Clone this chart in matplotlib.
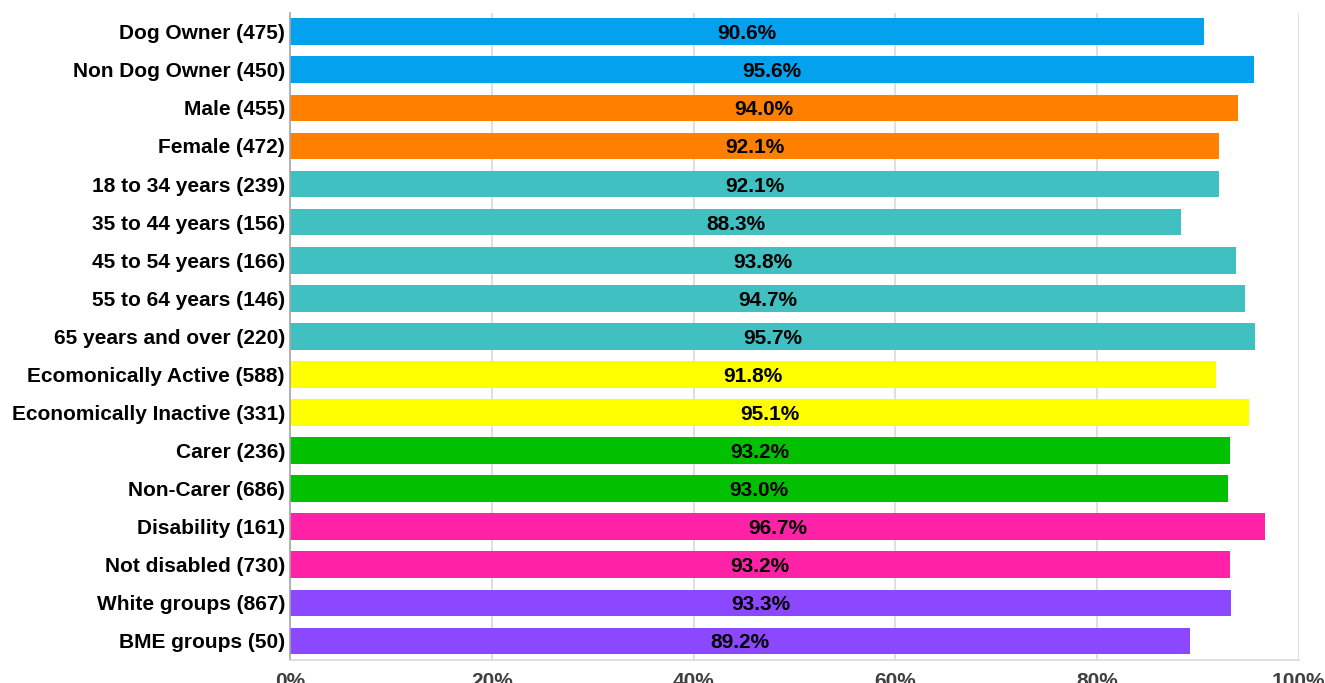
import matplotlib
matplotlib.use("Agg")
import matplotlib.pyplot as plt
from matplotlib.ticker import FuncFormatter

plt.rcParams['font.family'] = ['Liberation Sans', 'DejaVu Sans']

# Survey groups (with base sizes) and share of positive responses, %
categories = [
    "Dog Owner (475)", "Non Dog Owner (450)", "Male (455)", "Female (472)",
    "18 to 34 years (239)", "35 to 44 years (156)", "45 to 54 years (166)",
    "55 to 64 years (146)", "65 years and over (220)",
    "Ecomonically Active (588)", "Economically Inactive (331)",
    "Carer (236)", "Non-Carer (686)", "Disability (161)", "Not disabled (730)",
    "White groups (867)", "BME groups (50)",
]
values = [90.6, 95.6, 94.0, 92.1, 92.1, 88.3, 93.8, 94.7, 95.7,
          91.8, 95.1, 93.2, 93.0, 96.7, 93.2, 93.3, 89.2]
groups = ["dog", "dog", "sex", "sex", "age", "age", "age", "age", "age",
          "econ", "econ", "carer", "carer", "dis", "dis", "eth", "eth"]
group_colors = {
    "dog": "#03A1EE", "sex": "#FF8000", "age": "#40C0C0", "econ": "#FFFF00",
    "carer": "#00C000", "dis": "#FF22A6", "eth": "#8C48FF",
}
x_ticks = [0, 20, 40, 60, 80, 100]

FS = 15

fig = plt.figure(figsize=(13.25, 6.83), dpi=100)
ax = fig.add_axes([0.2192, 0.0337, 0.7608, 0.9477])

ypos = list(range(len(categories)))
colors = [group_colors[g] for g in groups]
ax.barh(ypos, values, height=0.70, color=colors, zorder=2)

for y, v in zip(ypos, values):
    ax.text(v / 2, y, f"{v:.1f}%", ha="center", va="center_baseline",
            fontsize=FS, fontweight="bold", color="black", zorder=3)

ax.set_xlim(0, 100)
ax.set_ylim(len(categories) - 0.5, -0.5)
ax.set_yticks(ypos)
ax.set_yticklabels(categories, fontsize=FS, fontweight="bold", color="black")
ax.set_xticks(x_ticks)
ax.xaxis.set_major_formatter(FuncFormatter(lambda v, p: f"{v:.0f}%"))
for lab in ax.get_xticklabels():
    lab.set_fontsize(FS)
    lab.set_fontweight("bold")
    lab.set_color("#404040")

ax.tick_params(axis="y", length=0, pad=4)
ax.tick_params(axis="x", length=0, pad=9)
ax.grid(axis="x", color="#D9D9D9", linewidth=1.2, zorder=0)
ax.set_axisbelow(True)
for side in ("top", "right"):
    ax.spines[side].set_visible(False)
ax.spines["left"].set_color("#A6A6A6")
ax.spines["left"].set_linewidth(1.2)
ax.spines["bottom"].set_color("#D9D9D9")
ax.spines["bottom"].set_linewidth(1.2)

fig.savefig("out.png", dpi=100)
